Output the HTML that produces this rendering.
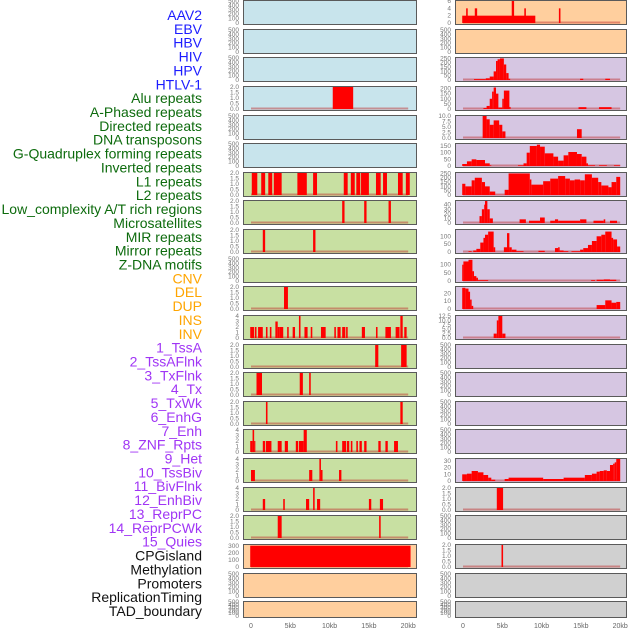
<!DOCTYPE html>
<html><head><meta charset="utf-8">
<style>
html,body{margin:0;padding:0;background:#fff;}
svg{display:block;font-family:"Liberation Sans",sans-serif;}
</style></head>
<body>
<svg id="chart" width="630" height="630" viewBox="0 0 630 630" xmlns="http://www.w3.org/2000/svg"></svg>
<script>
// ---- labels ----
const trackLabels = ["AAV2","EBV","HBV","HIV","HPV","HTLV-1","Alu repeats","A-Phased repeats","Directed repeats","DNA transposons","G-Quadruplex forming repeats","Inverted repeats","L1 repeats","L2 repeats","Low_complexity A/T rich regions","Microsatellites","MIR repeats","Mirror repeats","Z-DNA motifs","CNV","DEL","DUP","INS","INV","1_TssA","2_TssAFlnk","3_TxFlnk","4_Tx","5_TxWk","6_EnhG","7_Enh","8_ZNF_Rpts","9_Het","10_TssBiv","11_BivFlnk","12_EnhBiv","13_ReprPC","14_ReprPCWk","15_Quies","CPGisland","Methylation","Promoters","ReplicationTiming","TAD_boundary"];
const labelGroups = ["virus","virus","virus","virus","virus","virus","repeat","repeat","repeat","repeat","repeat","repeat","repeat","repeat","repeat","repeat","repeat","repeat","repeat","sv","sv","sv","sv","sv","state","state","state","state","state","state","state","state","state","state","state","state","state","state","state","other","other","other","other","other"];
const xTickValues = [0,5,10,15,20];
const xTickLabels = ["0","5kb","10kb","15kb","20kb"];

// ---- series: [startKb, endKb, value] ----
const sAAV2 = [];
const sEBV = [[-0.1,9.2,2],[0.4,0.6,4],[1.5,1.8,4],[6.2,6.5,6],[7.8,8.0,4],[12.2,12.4,4]];
const sHBV = [];
const sHIV = [];
const sHPV = [];
const sHTLV = [[1.4,2.9,10],[2.9,3.4,20],[3.4,3.9,40],[3.9,4.2,100],[4.2,4.4,220],[4.4,4.7,240],[4.7,5.2,250],[5.2,5.5,180],[5.5,5.8,80],[5.8,6.0,15],[14.9,15.3,15],[18.1,18.7,15]];
const sAlu = [[10.4,13.0,2]];
const sAPhased = [[2.6,3.0,10],[3.0,3.4,30],[3.4,3.7,100],[3.7,3.9,170],[3.9,4.2,210],[4.2,4.5,150],[4.5,5.0,15],[5.0,5.2,100],[5.2,5.9,180],[5.9,6.0,20],[14.7,15.7,18],[17.3,18.9,18]];
const sDirected = [];
const sDNATrans = [[2.5,3.0,10],[3.0,3.4,8.5],[3.4,3.9,6],[3.9,4.6,8],[4.6,5.0,6],[5.0,5.4,3],[14.5,15.1,4]];
const sGQuad = [];
const sInverted = [[-0.1,0.5,15],[0.5,1.1,35],[1.1,1.7,50],[1.7,2.8,45],[2.8,3.4,20],[3.4,3.6,5],[7.0,7.7,5],[7.7,8.1,20],[8.1,8.5,100],[8.5,9.4,150],[9.4,9.8,160],[9.8,10.4,145],[10.4,11.5,95],[11.5,12.1,70],[12.1,12.8,40],[12.8,13.4,80],[13.4,14.5,105],[14.5,15.1,90],[15.1,15.7,70],[15.7,15.9,20],[15.9,16.8,5],[17.3,18.3,5],[19.2,20.0,5]];
const sL1 = [[0.1,0.8,2],[1.3,1.8,2],[2.2,2.7,2],[2.9,3.9,2],[5.9,7.1,2],[7.9,8.4,2],[11.8,12.3,2],[12.7,13.2,2],[13.4,13.9,2],[14.0,15.0,2],[15.9,16.5,2],[16.8,17.3,2],[18.7,19.3,2],[19.7,20.2,2]];
const sL2 = [[-0.1,0.3,130],[0.3,1.1,100],[1.1,1.5,170],[1.5,2.4,200],[2.4,2.8,150],[2.8,3.4,100],[3.4,4.1,40],[4.1,5.3,2],[5.3,5.8,60],[5.8,8.5,250],[8.5,8.7,180],[8.7,10.2,120],[10.2,11.1,160],[11.1,12.1,190],[12.1,13.0,220],[13.0,13.6,190],[13.6,14.2,170],[14.2,14.9,180],[14.9,15.5,170],[15.5,16.4,240],[16.4,17.2,200],[17.2,17.6,150],[17.6,18.5,110],[18.5,18.9,90],[18.9,19.5,150],[19.5,20.0,210]];
const sLowComplex = [[11.6,11.9,2],[14.4,14.7,2],[17.5,17.8,2]];
const sMicro = [[2.1,2.4,15],[2.4,2.7,30],[2.7,2.8,40],[2.8,3.1,48],[3.1,3.4,30],[3.4,3.8,10],[7.2,8.0,8],[8.4,9.8,5],[9.8,10.4,12],[11.1,11.7,5],[11.7,12.1,8],[12.1,14.9,5],[14.9,15.7,8],[16.6,17.9,5],[17.9,18.1,8],[18.7,19.6,5]];
const sMIR = [[1.5,1.8,2],[7.9,8.2,2]];
const sMirror = [[0.7,1.1,5],[1.3,1.7,10],[1.7,2.2,20],[2.2,2.6,60],[2.6,2.8,90],[2.8,3.2,110],[3.2,3.9,130],[3.9,4.1,30],[5.2,5.6,30],[5.6,5.9,120],[5.9,6.2,30],[6.2,6.8,15],[6.8,7.7,5],[9.6,10.4,8],[11.7,12.1,25],[12.1,12.3,30],[12.3,12.8,10],[12.8,13.4,5],[13.8,14.9,5],[14.9,15.3,15],[15.3,15.9,25],[15.9,16.4,45],[16.4,17.0,70],[17.0,17.6,100],[17.6,18.1,110],[18.1,18.9,130],[18.9,19.1,90],[19.1,19.6,80],[19.6,20.0,35]];
const sZDNA = [];
const sCNV = [[-0.1,0.05,100],[0.05,0.7,120],[0.7,1.2,130],[1.2,1.4,60],[1.4,1.7,30],[1.7,1.9,20],[1.9,3.2,5],[16.3,16.8,5],[17.0,17.9,8],[17.9,18.7,10],[18.7,19.5,8]];
const sDEL = [[4.2,4.7,2]];
const sDUP = [[-0.1,0.3,27],[0.3,0.7,26],[0.7,0.9,22],[0.9,1.1,12],[1.1,1.3,4],[17.0,18.1,5],[18.1,18.9,11],[18.9,19.5,8],[19.5,20.0,9]];
const sINS = [[-0.1,0.4,2],[0.5,0.7,2],[0.9,1.5,2],[1.9,2.1,2],[2.4,2.6,2],[3.1,3.4,3],[3.4,3.6,2],[3.6,4.1,2],[4.6,4.8,2],[5.3,5.6,2],[6.1,6.3,4],[6.8,7.2,2],[7.6,7.8,2],[8.9,9.5,2],[10.6,10.8,2],[11.0,11.4,2],[11.6,12.0,2],[12.1,12.3,2],[14.1,14.5,2],[15.9,16.1,2],[17.1,17.8,2],[18.4,18.9,2],[19.0,19.3,4],[19.5,19.8,2]];
const sINV = [[3.9,4.3,2.5],[4.3,4.5,10],[4.5,5.0,12.5],[5.0,5.4,2.5]];
const sTssA = [[15.8,16.2,2],[19.1,19.8,2]];
const sTssAFlnk = [];
const sTxFlnk = [[0.7,1.4,2],[6.2,6.6,2],[7.4,7.6,2]];
const sTx = [];
const sTxWk = [[1.9,2.1,2],[19.0,19.3,2]];
const sEnhG = [];
const sEnh = [[-0.1,0.2,2],[0.2,0.4,4],[0.4,0.55,2],[1.5,1.8,2],[1.9,2.6,2],[3.4,3.9,2],[4.3,4.7,2],[5.7,6.0,2],[6.1,6.7,2],[6.7,7.1,4],[10.8,11.0,2],[11.6,12.1,2],[12.2,12.5,2],[12.7,12.9,2],[13.4,13.6,2],[13.8,14.1,2],[14.4,14.7,2],[16.2,16.5,2],[17.1,17.4,2],[18.2,18.7,2]];
const sZNF = [];
const sHet = [[0.0,0.5,2],[7.4,7.8,2],[8.7,8.9,4],[8.9,9.1,2],[11.2,11.5,2]];
const sTssBiv = [[-0.1,0.5,10],[0.5,1.1,11],[1.1,1.9,15],[1.9,2.6,13],[2.6,3.2,9],[3.2,3.6,5],[3.6,4.1,2],[5.3,5.8,3],[5.8,10.2,5],[10.2,12.8,3],[12.8,15.5,5],[15.5,16.4,9],[16.4,17.0,11],[17.0,17.4,14],[17.4,17.9,15],[17.9,18.3,16],[18.3,18.7,15],[18.7,19.1,24],[19.1,19.3,26],[19.3,19.5,28],[19.5,20.0,33]];
const sBivFlnk = [[1.5,1.8,2],[4.1,4.3,2],[7.0,7.4,2],[7.9,8.1,4],[8.4,8.8,2],[15.0,15.3,2],[16.4,16.8,2]];
const sEnhBiv = [[4.3,5.1,2]];
const sReprPC = [[3.4,3.9,2],[16.3,16.5,2]];
const sReprPCWk = [];
const sQuies = [[-0.1,20.3,305]];
const sCPG = [[4.9,5.1,2]];
const sMethyl = [];
const sPromoters = [];
const sRepTiming = [];
const sTAD = [];

// ---- tick sets ----
const tEmpty = [0,100,200,300,400,500];
const t2 = [0,0.5,1.0,1.5,2.0];
const t4 = [0,1,2,3,4];

// col, row, name, series, ticks, ymax, background
const panels = [
 [0,0,"aav2",sAAV2,tEmpty,500,"blue"],[1,0,"ebv",sEBV,[0,2,4,6],6,"orange"],
 [0,1,"hbv",sHBV,tEmpty,500,"blue"],[1,1,"hiv",sHIV,tEmpty,500,"orange"],
 [0,2,"hpv",sHPV,tEmpty,500,"blue"],[1,2,"htlv-1",sHTLV,[0,50,100,150,200,250],255,"purple"],
 [0,3,"alu-repeats",sAlu,t2,2,"blue"],[1,3,"a-phased-repeats",sAPhased,[0,50,100,150,200],215,"purple"],
 [0,4,"directed-repeats",sDirected,tEmpty,500,"blue"],[1,4,"dna-transposons",sDNATrans,[0,2.5,5.0,7.5,10.0],10,"purple"],
 [0,5,"g-quadruplex",sGQuad,tEmpty,500,"blue"],[1,5,"inverted-repeats",sInverted,[0,50,100,150],165,"purple"],
 [0,6,"l1-repeats",sL1,t2,2,"green"],[1,6,"l2-repeats",sL2,[0,50,100,150,200,250],255,"purple"],
 [0,7,"low-complexity",sLowComplex,t2,2,"green"],[1,7,"microsatellites",sMicro,[0,10,20,30,40],48,"purple"],
 [0,8,"mir-repeats",sMIR,t2,2,"green"],[1,8,"mirror-repeats",sMirror,[0,50,100],140,"purple"],
 [0,9,"z-dna-motifs",sZDNA,tEmpty,500,"green"],[1,9,"cnv",sCNV,[0,50,100],135,"purple"],
 [0,10,"del",sDEL,t2,2,"green"],[1,10,"dup",sDUP,[0,10,20],28,"purple"],
 [0,11,"ins",sINS,t4,4,"green"],[1,11,"inv",sINV,[0,2.5,5.0,7.5,10.0,12.5],12.5,"purple"],
 [0,12,"1-tssa",sTssA,t2,2,"green"],[1,12,"2-tssaflnk",sTssAFlnk,tEmpty,500,"purple"],
 [0,13,"3-txflnk",sTxFlnk,t2,2,"green"],[1,13,"4-tx",sTx,tEmpty,500,"purple"],
 [0,14,"5-txwk",sTxWk,t2,2,"green"],[1,14,"6-enhg",sEnhG,tEmpty,500,"purple"],
 [0,15,"7-enh",sEnh,t4,4,"green"],[1,15,"8-znf-rpts",sZNF,tEmpty,500,"purple"],
 [0,16,"9-het",sHet,t4,4,"green"],[1,16,"10-tssbiv",sTssBiv,[0,10,20,30],33,"purple"],
 [0,17,"11-bivflnk",sBivFlnk,t4,4,"green"],[1,17,"12-enhbiv",sEnhBiv,t2,2,"gray"],
 [0,18,"13-reprpc",sReprPC,t2,2,"green"],[1,18,"14-reprpcwk",sReprPCWk,tEmpty,500,"gray"],
 [0,19,"15-quies",sQuies,[0,100,200,300],315,"orange"],[1,19,"cpgisland",sCPG,t2,2,"gray"],
 [0,20,"methylation",sMethyl,tEmpty,500,"orange"],[1,20,"promoters",sPromoters,tEmpty,500,"gray"],
 [0,21,"replication-timing",sRepTiming,tEmpty,500,"orange"],[1,21,"tad-boundary",sTAD,tEmpty,500,"gray"]
];

const NS = "http://www.w3.org/2000/svg";
const svg = document.getElementById("chart");
const bgColors = {blue:"#c8e4ec",green:"#c8e0a2",purple:"#d6c6e2",orange:"#ffcf9e",gray:"#d0d0d0"};
const labelColors = {virus:"#1c1cff",repeat:"#0d6b0d",sv:"#ffa500",state:"#a035f5",other:"#111"};
const colLeft = [243,455], colWidth = [173,171], zeroPx = [251,463], pxPerKb = [7.86,7.86];
function xScale(col,kb){ return zeroPx[col] + kb*pxPerKb[col]; }
function rowTop(r){ return Math.round(r*28.63); }
function rowH(r){ return r===21 ? 16 : 24; }
function mk(tag, attrs){ const e=document.createElementNS(NS,tag); for(const k in attrs) e.setAttribute(k,attrs[k]); return e; }

// labels
trackLabels.forEach((t,i)=>{
  const el = mk("text",{x:202,y:15+i*13.86+5,"text-anchor":"end","font-size":"14",fill:labelColors[labelGroups[i]]});
  el.textContent = t;
  
  
  svg.appendChild(el);
});

panels.forEach(p=>{
  const [col,row,name,series,ticks,ymax,bg] = p;
  const top = rowTop(row), h = rowH(row), left = colLeft[col], w = colWidth[col];
  const g = mk("g",{});
  
  
  const yScale = v => (top+h-1) - (v/ymax)*(h-2);
  const rect = mk("rect",{x:left+0.5,y:top+0.5,width:w,height:h,fill:bgColors[bg],stroke:"#5a5a5a","stroke-width":"1"});
  
  
  g.appendChild(rect);
  if(series.length){
    const base = mk("rect",{x:xScale(col,0),y:yScale(0)-1.5,width:xScale(col,20)-xScale(col,0),height:2,fill:"rgba(190,40,40,0.45)"});
    
    
    g.appendChild(base);
  }
  series.forEach(s=>{
    const x0 = xScale(col,s[0]), x1 = xScale(col,s[1]);
    const y0 = yScale(s[2]), y1 = yScale(0);
    const b = mk("rect",{x:x0,y:Math.max(top+1,y0),width:Math.max(1.2,x1-x0),height:y1-Math.max(top+1,y0),fill:"#ff0000"});
    
    
    g.appendChild(b);
  });
  ticks.forEach(t=>{
    const tx = mk("text",{x:left-4,y:yScale(t)+2,"text-anchor":"end","font-size":"6.5",fill:"#777"});
    tx.textContent = (ticks[1]===0.5 && t%1===0) ? t.toFixed(1) : (ticks[1]===2.5 ? t.toFixed(1) : String(t));
    
    
    g.appendChild(tx);
  });
  svg.appendChild(g);
});

// x axes
[0,1].forEach(col=>{
  xTickValues.forEach((v,i)=>{
    const tx = mk("text",{x:xScale(col,v),y:628,"text-anchor":"middle","font-size":"7",fill:"#666"});
    tx.textContent = xTickLabels[i];
    
    
    svg.appendChild(tx);
  });
});
</script>
</body></html>
